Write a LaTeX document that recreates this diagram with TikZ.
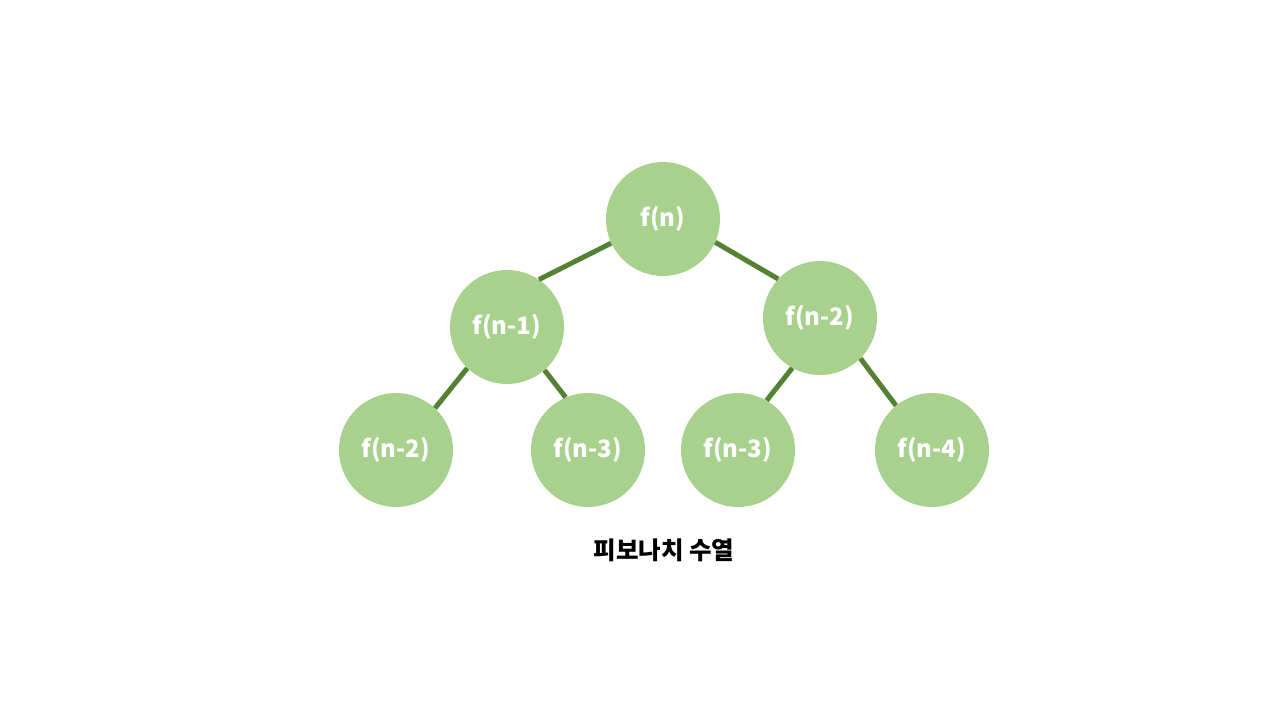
\documentclass[tikz,border=0pt]{standalone}
\usepackage{fontspec}
\setmainfont{Noto Sans CJK KR}
\definecolor{leaf}{HTML}{A9D18E}
\definecolor{stem}{HTML}{548235}
\tikzset{
  call/.style={circle,fill=leaf,minimum size=114pt,inner sep=0pt,
    text=white,font=\fontsize{24}{27}\selectfont\bfseries},
  edge/.style={draw=stem,line width=5pt}
}
\begin{document}
\begin{tikzpicture}[x=1pt,y=-1pt]
            \useasboundingbox (0,0) rectangle (1280,720);
            \node[call] (r) at (663,219) {f(n)};
            \node[call] (a) at (507,327) {f(n-1)};
            \node[call] (b) at (820,318) {f(n-2)};
            \node[call] (aa) at (396,450) {f(n-2)};
            \node[call] (ab) at (588,450) {f(n-3)};
            \node[call] (ba) at (738,450) {f(n-3)};
            \node[call] (bb) at (932,450) {f(n-4)};
            % edges leave each circle at fixed angles
            \foreach \p/\u/\c/\v in {r/205/a/56,r/336/b/137,a/226/aa/47,
                                     a/311/ab/113,b/241/ba/60,b/315/bb/129}
                \draw[edge] (\p.\u)--(\c.\v);
            \node[font=\fontsize{24.5}{28}\selectfont\bfseries] (cap) at (664,550) {피보나치 수열};
        \end{tikzpicture}
\end{document}
